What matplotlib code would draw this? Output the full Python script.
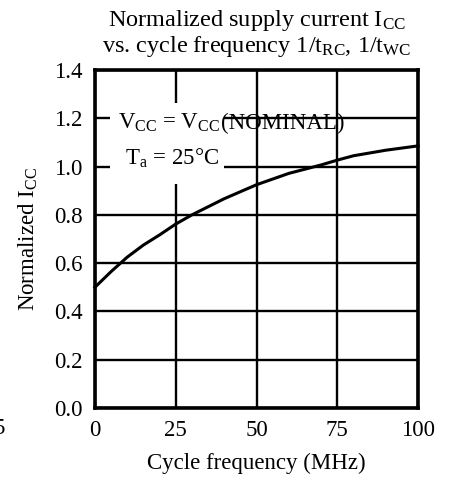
import matplotlib
matplotlib.use("Agg")
from matplotlib import pyplot as plt
from matplotlib.patches import Rectangle

plt.rcParams["font.family"] = ["Liberation Serif", "DejaVu Serif"]
plt.rcParams["mathtext.fontset"] = "custom"
plt.rcParams["mathtext.rm"] = "Liberation Serif"
plt.rcParams["mathtext.it"] = "Liberation Serif:italic"

# 그래프에서 읽은 값 (MHz, normalized Icc)
freq = [0, 5, 10, 15, 20, 25, 30, 40, 50, 60, 70, 75, 80, 90, 100]
icc = [0.50, 0.565, 0.625, 0.675, 0.717, 0.762, 0.80, 0.867, 0.925,
       0.972, 1.007, 1.027, 1.045, 1.068, 1.086]

x_ticks = [0, 25, 50, 75, 100]
y_ticks = [0.0, 0.2, 0.4, 0.6, 0.8, 1.0, 1.2, 1.4]
y_ticklabels = ["0.0", "0.2", "0.4", "0.6", "0.8", "1.0", "1.2", "1.4"]

fs = 16.5

fig = plt.figure(figsize=(4.54, 4.8), dpi=100)
ax = fig.add_axes([0.209, 0.15, 0.712, 0.704])

ax.set_xlim(0, 100)
ax.set_ylim(0, 1.4)
ax.set_xticks(x_ticks)
ax.set_yticks(y_ticks)
ax.set_yticklabels(y_ticklabels)
ax.tick_params(length=0, labelsize=fs, pad=9)
ax.grid(True, color="black", linewidth=1.7)
ax.set_axisbelow(True)
for s in ax.spines.values():
    s.set_linewidth(2.6)
    s.set_zorder(5)

ax.plot(freq, icc, color="black", linewidth=2.2, clip_on=False, zorder=4)

# 조건 텍스트 뒤 흰 박스
ax.add_patch(Rectangle((4.6, 0.93), 35.4, 0.335, facecolor="white",
                       edgecolor="none", zorder=2))
ax.text(7.0, 1.18, r"V$_{\rm CC}$ = V$_{\rm CC}$", fontsize=fs,
        va="center", ha="left", zorder=3)
ax.text(39.0, 1.18, "(NOMINAL)", fontsize=fs, va="center", ha="left",
        zorder=3)
ax.text(9.2, 1.035, r"T$_{\rm a}$ = 25°C", fontsize=fs, va="center",
        ha="left", zorder=3)

ax.set_xlabel("Cycle frequency (MHz)", fontsize=fs, labelpad=8)
ax.set_ylabel(r"Normalized I$_{\rm CC}$", fontsize=fs, labelpad=10)

fig.text(0.565, 0.946, r"Normalized supply current I$_{\rm CC}$",
         fontsize=17.5, ha="center", va="baseline")
fig.text(0.565, 0.892, r"vs. cycle frequency 1/t$_{\rm RC}$, 1/t$_{\rm WC}$",
         fontsize=17.5, ha="center", va="baseline")

# 왼쪽 아래 잘린 글자 (원본에 있음)
fig.text(-0.014, 0.095, "5", fontsize=fs, ha="left", va="baseline")

plt.savefig("out.png", dpi=100)
plt.close()
